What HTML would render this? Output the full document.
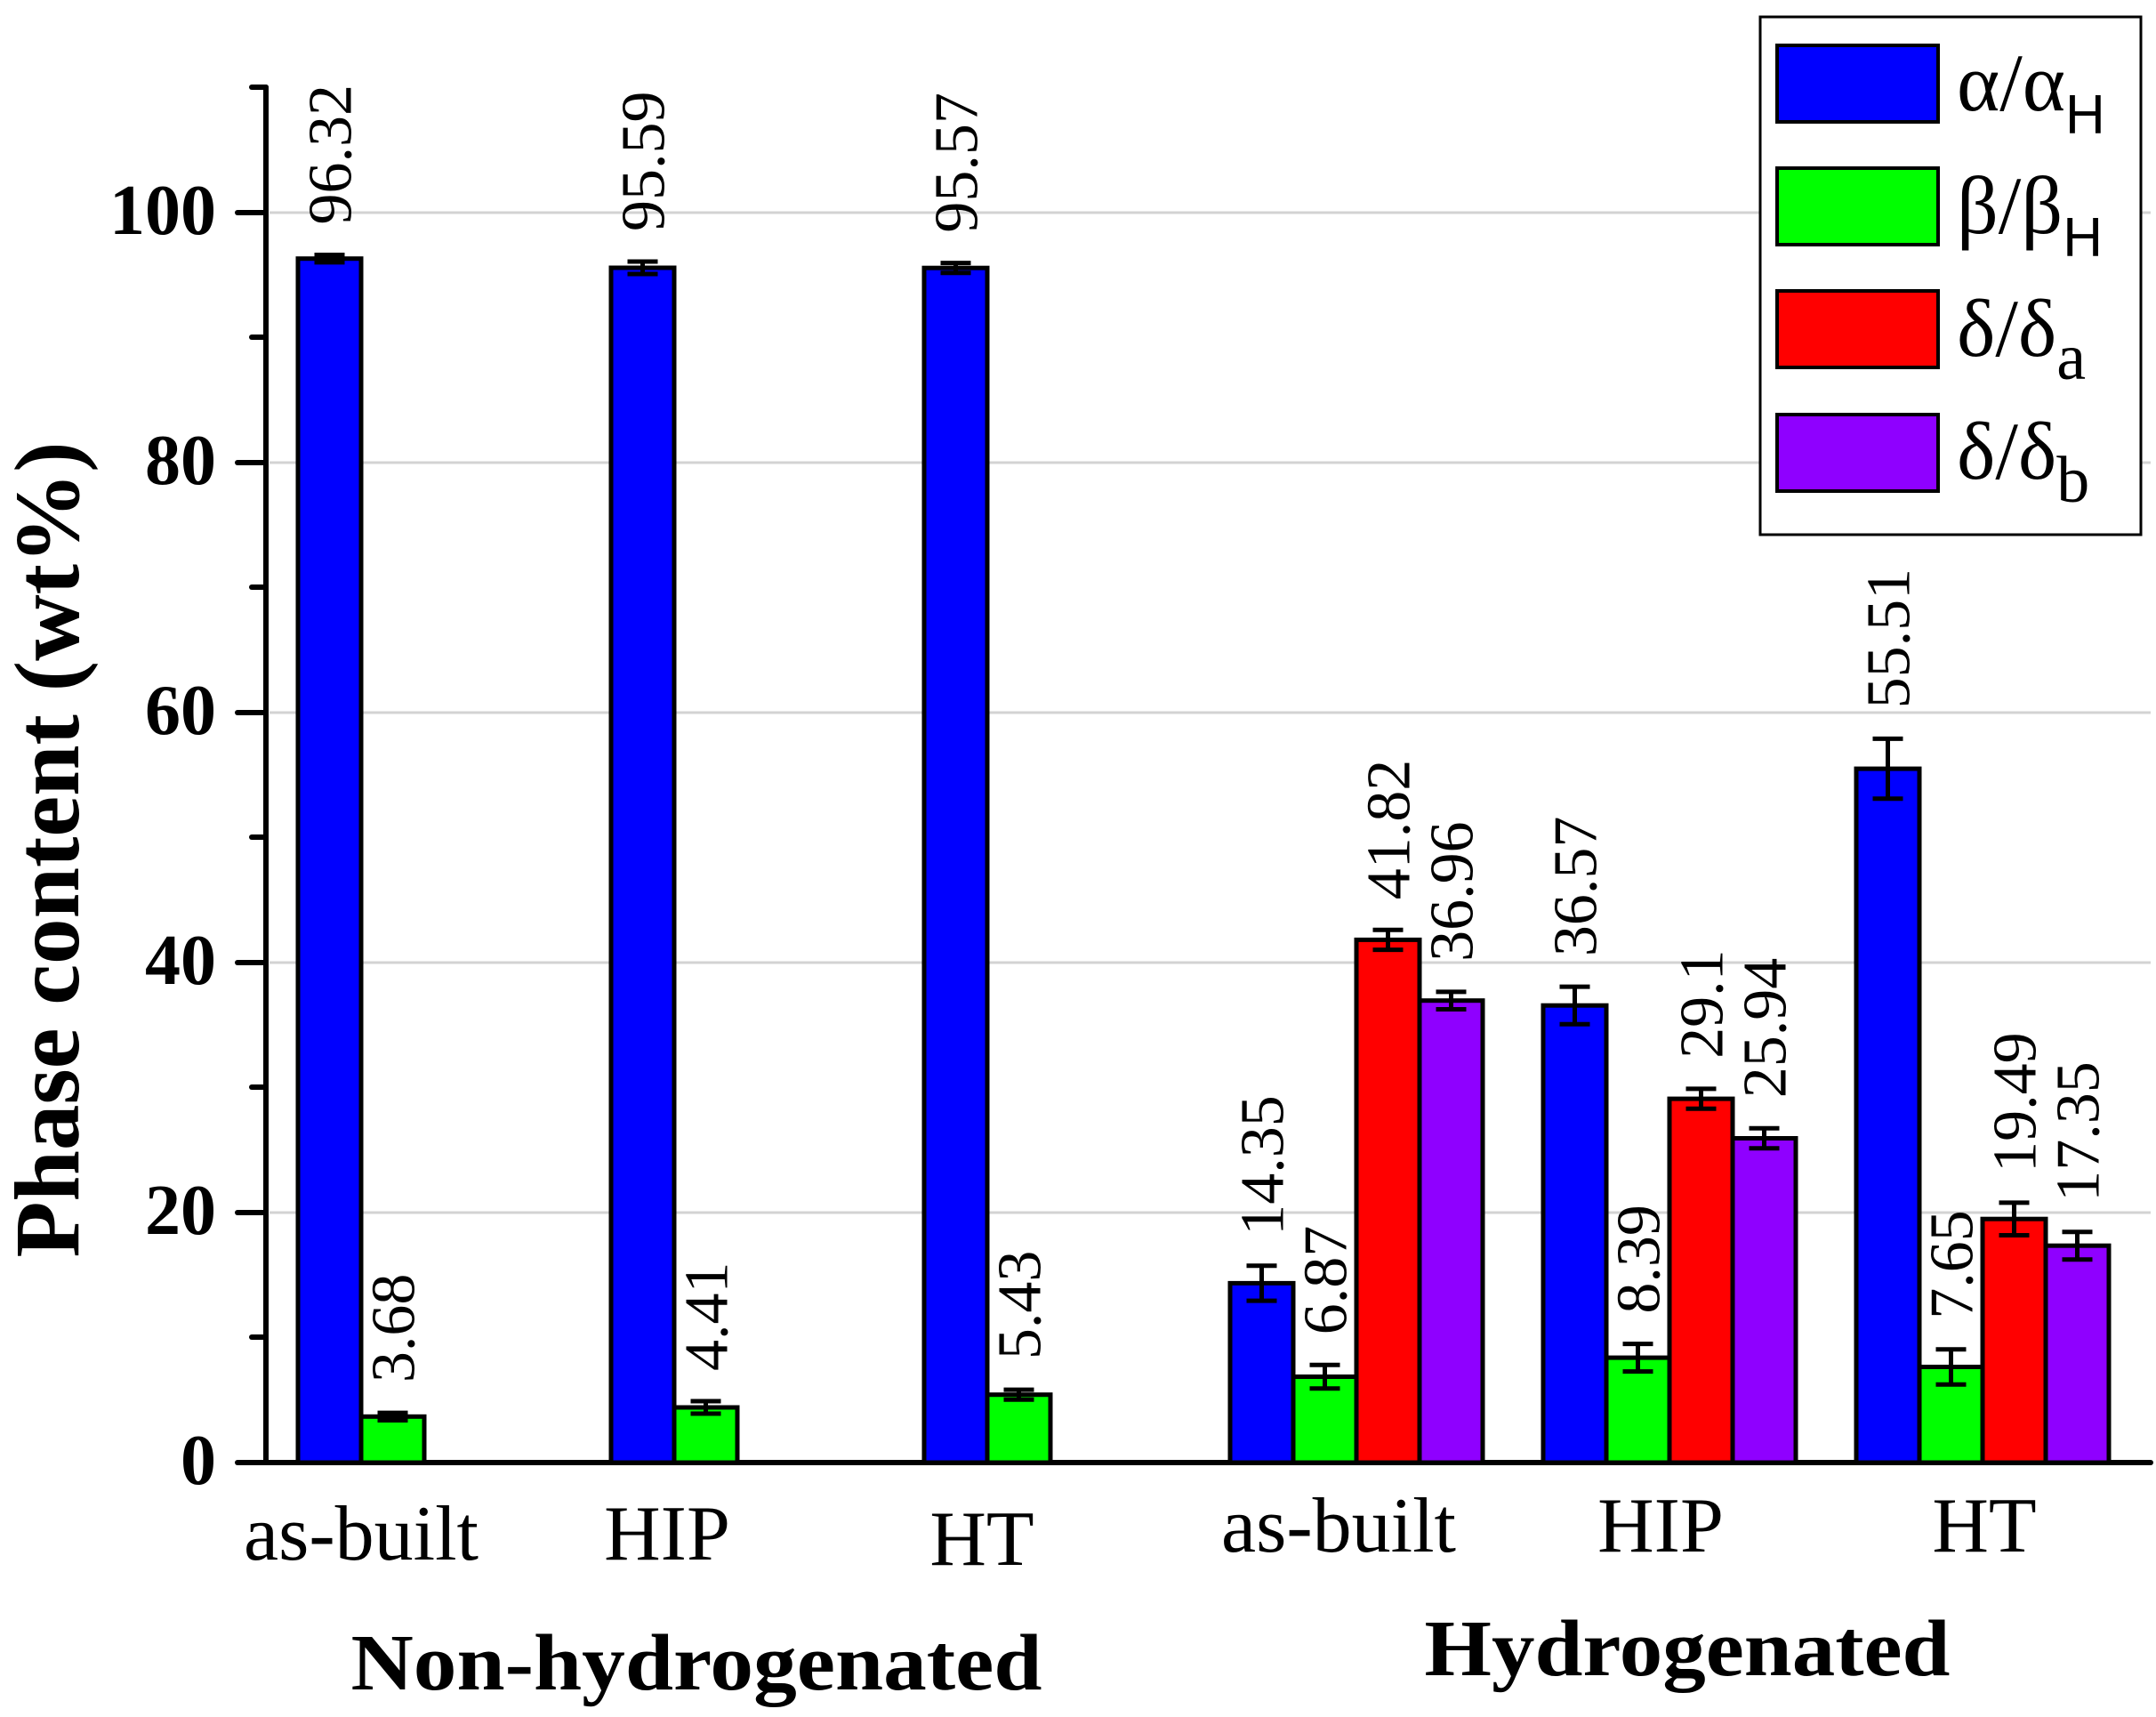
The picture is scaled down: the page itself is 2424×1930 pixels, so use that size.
<!DOCTYPE html>
<html><head><meta charset="utf-8"><style>html,body{margin:0;padding:0;background:#fff}svg{display:block}</style></head>
<body>
<svg width="2424" height="1930" viewBox="0 0 2424 1930" xmlns="http://www.w3.org/2000/svg" font-family="'Liberation Serif', serif">
<g stroke="#d3d3d3" stroke-width="3">
<line x1="303" y1="1363" x2="2418" y2="1363"/><line x1="303" y1="1082" x2="2418" y2="1082"/>
<line x1="303" y1="801" x2="2418" y2="801"/><line x1="303" y1="520" x2="2418" y2="520"/>
<line x1="303" y1="239" x2="2418" y2="239"/>
</g>
<g stroke="#000" stroke-width="6" stroke-linecap="round">
<line x1="299" y1="98" x2="299" y2="1644"/>
<line x1="267" y1="1644" x2="2418" y2="1644"/>
<line x1="267" y1="1363" x2="299" y2="1363"/><line x1="267" y1="1082" x2="299" y2="1082"/>
<line x1="267" y1="801" x2="299" y2="801"/><line x1="267" y1="520" x2="299" y2="520"/>
<line x1="267" y1="239" x2="299" y2="239"/>
<line x1="283" y1="1503" x2="299" y2="1503"/><line x1="283" y1="1222" x2="299" y2="1222"/>
<line x1="283" y1="941" x2="299" y2="941"/><line x1="283" y1="660" x2="299" y2="660"/>
<line x1="283" y1="379" x2="299" y2="379"/><line x1="283" y1="98" x2="299" y2="98"/>
</g>
<g font-weight="bold" font-size="80" text-anchor="end">
<text x="243" y="1668">0</text><text x="243" y="1387">20</text><text x="243" y="1106">40</text>
<text x="243" y="825">60</text><text x="243" y="544">80</text><text x="243" y="263">100</text>
</g>
<text transform="translate(88,955) rotate(-90)" text-anchor="middle" font-weight="bold" font-size="104" textLength="917" lengthAdjust="spacingAndGlyphs">Phase content (wt%)</text>
<g stroke="#000" stroke-width="5">
<rect x="335" y="290.7" width="71" height="1353.3" fill="#0000ff"/>
<rect x="406" y="1592.3" width="71" height="51.7" fill="#00ff00"/>
<rect x="687" y="301" width="71" height="1343" fill="#0000ff"/>
<rect x="758" y="1582" width="71" height="62" fill="#00ff00"/>
<rect x="1039" y="301.2" width="71" height="1342.8" fill="#0000ff"/>
<rect x="1110" y="1567.7" width="71" height="76.3" fill="#00ff00"/>
<rect x="1383" y="1442.4" width="71" height="201.6" fill="#0000ff"/>
<rect x="1454" y="1547.5" width="71" height="96.5" fill="#00ff00"/>
<rect x="1525" y="1056.4" width="71" height="587.6" fill="#ff0000"/>
<rect x="1596" y="1124.7" width="71" height="519.3" fill="#8f00ff"/>
<rect x="1735" y="1130.2" width="71" height="513.8" fill="#0000ff"/>
<rect x="1806" y="1526.1" width="71" height="117.9" fill="#00ff00"/>
<rect x="1877" y="1235.1" width="71" height="408.9" fill="#ff0000"/>
<rect x="1948" y="1279.5" width="71" height="364.5" fill="#8f00ff"/>
<rect x="2087" y="864.1" width="71" height="779.9" fill="#0000ff"/>
<rect x="2158" y="1536.5" width="71" height="107.5" fill="#00ff00"/>
<rect x="2229" y="1370.2" width="71" height="273.8" fill="#ff0000"/>
<rect x="2300" y="1400.2" width="71" height="243.8" fill="#8f00ff"/>
</g>
<g stroke="#000" stroke-width="5" fill="none">
<path d="M370.5 286.5V294.9M353.5 286.5H387.5M353.5 294.9H387.5"/>
<path d="M441.5 1588.1V1596.5M424.5 1588.1H458.5M424.5 1596.5H458.5"/>
<path d="M722.5 294V308M705.5 294H739.5M705.5 308H739.5"/>
<path d="M793.5 1575V1589M776.5 1575H810.5M776.5 1589H810.5"/>
<path d="M1074.5 295.6V306.8M1057.5 295.6H1091.5M1057.5 306.8H1091.5"/>
<path d="M1145.5 1562.1V1573.3M1128.5 1562.1H1162.5M1128.5 1573.3H1162.5"/>
<path d="M1418.5 1422.7V1462.1M1401.5 1422.7H1435.5M1401.5 1462.1H1435.5"/>
<path d="M1489.5 1534.2V1560.8M1472.5 1534.2H1506.5M1472.5 1560.8H1506.5"/>
<path d="M1560.5 1045.2V1067.6M1543.5 1045.2H1577.5M1543.5 1067.6H1577.5"/>
<path d="M1631.5 1114.9V1134.5M1614.5 1114.9H1648.5M1614.5 1134.5H1648.5"/>
<path d="M1770.5 1109.1V1151.3M1753.5 1109.1H1787.5M1753.5 1151.3H1787.5"/>
<path d="M1841.5 1510.6V1541.6M1824.5 1510.6H1858.5M1824.5 1541.6H1858.5"/>
<path d="M1912.5 1223.9V1246.3M1895.5 1223.9H1929.5M1895.5 1246.3H1929.5"/>
<path d="M1983.5 1268.3V1290.7M1966.5 1268.3H2000.5M1966.5 1290.7H2000.5"/>
<path d="M2122.5 830.4V897.8M2105.5 830.4H2139.5M2105.5 897.8H2139.5"/>
<path d="M2193.5 1516.8V1556.2M2176.5 1516.8H2210.5M2176.5 1556.2H2210.5"/>
<path d="M2264.5 1351.9V1388.5M2247.5 1351.9H2281.5M2247.5 1388.5H2281.5"/>
<path d="M2335.5 1384.7V1415.7M2318.5 1384.7H2352.5M2318.5 1415.7H2352.5"/>
</g>
<g font-size="70" font-family="'Liberation Serif', serif">
<text transform="translate(394.5,252.5) rotate(-90)">96.32</text>
<text transform="translate(465.5,1554.1) rotate(-90)">3.68</text>
<text transform="translate(746.5,260) rotate(-90)">95.59</text>
<text transform="translate(817.5,1541) rotate(-90)">4.41</text>
<text transform="translate(1098.5,261.6) rotate(-90)">95.57</text>
<text transform="translate(1169.5,1528.1) rotate(-90)">5.43</text>
<text transform="translate(1442.5,1388.7) rotate(-90)">14.35</text>
<text transform="translate(1513.5,1500.2) rotate(-90)">6.87</text>
<text transform="translate(1584.5,1011.2) rotate(-90)">41.82</text>
<text transform="translate(1655.5,1080.9) rotate(-90)">36.96</text>
<text transform="translate(1794.5,1075.1) rotate(-90)">36.57</text>
<text transform="translate(1865.5,1476.6) rotate(-90)">8.39</text>
<text transform="translate(1936.5,1189.9) rotate(-90)">29.1</text>
<text transform="translate(2007.5,1234.3) rotate(-90)">25.94</text>
<text transform="translate(2146.5,796.4) rotate(-90)">55.51</text>
<text transform="translate(2217.5,1482.8) rotate(-90)">7.65</text>
<text transform="translate(2288.5,1317.9) rotate(-90)">19.49</text>
<text transform="translate(2359.5,1350.7) rotate(-90)">17.35</text>
</g>
<g font-size="88" text-anchor="middle">
<text x="406" y="1753">as-built</text><text x="750" y="1753">HIP</text><text x="1104" y="1759">HT</text>
<text x="1505" y="1744">as-built</text><text x="1867" y="1744">HIP</text><text x="2231" y="1744">HT</text>
</g>
<g font-size="90" font-weight="bold" text-anchor="middle">
<text x="783" y="1899" textLength="777" lengthAdjust="spacingAndGlyphs">Non-hydrogenated</text>
<text x="1897" y="1883" textLength="591" lengthAdjust="spacingAndGlyphs">Hydrogenated</text>
</g>
<rect x="1979" y="19" width="428" height="582" fill="#fff" stroke="#000" stroke-width="3"/>
<g stroke="#000" stroke-width="4">
<rect x="1998" y="51" width="181" height="86" fill="#0000ff"/>
<rect x="1998" y="189" width="181" height="86" fill="#00ff00"/>
<rect x="1998" y="327" width="181" height="86" fill="#ff0000"/>
<rect x="1998" y="466" width="181" height="86" fill="#8f00ff"/>
</g>
<g font-size="92">
<text x="2200" y="124">α/α<tspan font-family="'Liberation Sans', sans-serif" font-size="62" dy="26">H</tspan></text>
<text x="2200" y="262">β/β<tspan font-family="'Liberation Sans', sans-serif" font-size="62" dy="26">H</tspan></text>
<text x="2200" y="400">δ/δ<tspan font-size="74" dy="26">a</tspan></text>
<text x="2200" y="538">δ/δ<tspan font-size="74" dy="26">b</tspan></text>
</g>
</svg>
</body></html>
